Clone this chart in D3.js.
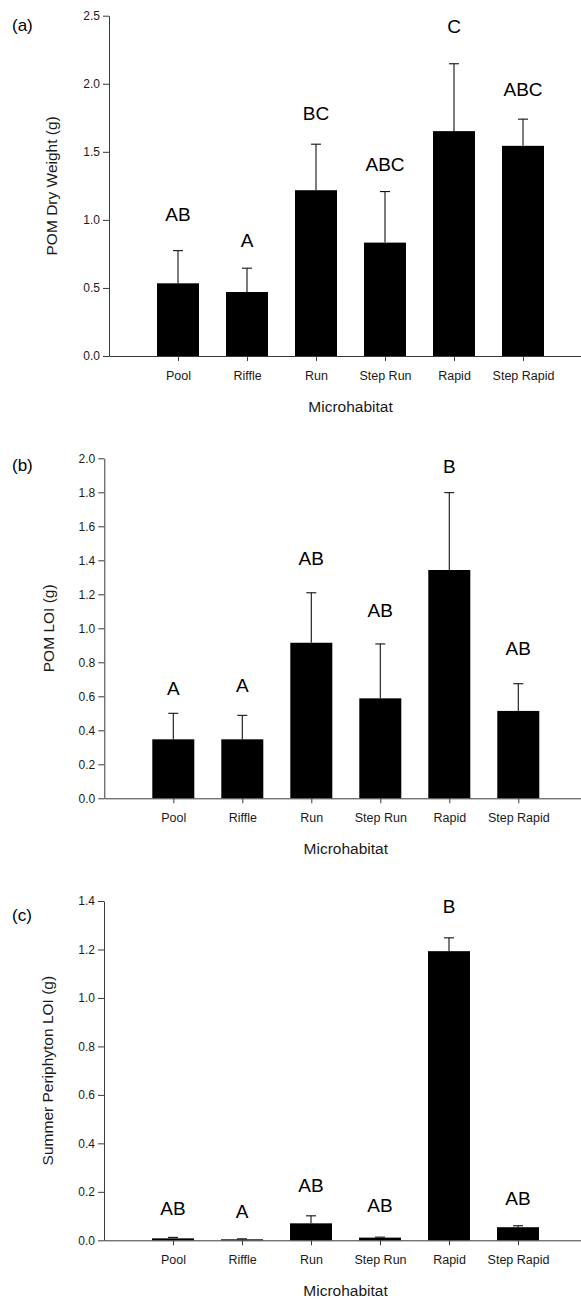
<!DOCTYPE html>
<html>
<head>
<meta charset="utf-8">
<script src="https://cdn.jsdelivr.net/npm/d3@7"></script>
<style>
  html, body { margin: 0; padding: 0; background: #fff; }
  svg { display: block; }
  text { font-family: "Liberation Sans", Arial, sans-serif; }
</style>
</head>
<body>
<svg id="chart" width="581" height="1304"></svg>
<script>
// ---- data ----
const categories = ["Pool", "Riffle", "Run", "Step Run", "Rapid", "Step Rapid"];

const dryMean = [0.534, 0.470, 1.218, 0.833, 1.652, 1.544];
const dryErr = [0.240, 0.175, 0.338, 0.375, 0.495, 0.196];
const dryLetters = ["AB", "A", "BC", "ABC", "C", "ABC"];
const dryLetterAt = [0.995, 0.804, 1.735, 1.362, 2.373, 1.912];
const dryTicks = [0.0, 0.5, 1.0, 1.5, 2.0, 2.5];

const loiMean = [0.347, 0.347, 0.915, 0.588, 1.343, 0.514];
const loiErr = [0.153, 0.141, 0.294, 0.320, 0.455, 0.160];
const loiLetters = ["A", "A", "AB", "AB", "B", "AB"];
const loiLetterAt = [0.608, 0.624, 1.372, 1.068, 1.912, 0.843];
const loiTicks = [0.0, 0.2, 0.4, 0.6, 0.8, 1.0, 1.2, 1.4, 1.6, 1.8, 2.0];

const periMean = [0.008, 0.004, 0.070, 0.011, 1.193, 0.054];
const periErr = [0.004, 0.002, 0.031, 0.002, 0.055, 0.006];
const periLetters = ["AB", "A", "AB", "AB", "B", "AB"];
const periLetterAt = [0.104, 0.091, 0.200, 0.116, 1.349, 0.146];
const periTicks = [0.0, 0.2, 0.4, 0.6, 0.8, 1.0, 1.2, 1.4];

const panelLabels = ["(a)", "(b)", "(c)"];
const yTitles = ["POM Dry Weight (g)", "POM LOI (g)", "Summer Periphyton LOI (g)"];
const xTitle = "Microhabitat";

// ---- layout (not data) ----
const panels = [
  { mean: dryMean, err: dryErr, letters: dryLetters, letterAt: dryLetterAt, ticks: dryTicks,
    yMax: 2.5, x0: 109, top: 15.7, bottom: 356, ylabX: 52, labelY: 31 },
  { mean: loiMean, err: loiErr, letters: loiLetters, letterAt: loiLetterAt, ticks: loiTicks,
    yMax: 2.0, x0: 104.3, top: 458.3, bottom: 798.3, ylabX: 49, labelY: 471 },
  { mean: periMean, err: periErr, letters: periLetters, letterAt: periLetterAt, ticks: periTicks,
    yMax: 1.4, x0: 104, top: 901, bottom: 1240.3, ylabX: 48, labelY: 921 }
];
const step = 69;
const barW = 42;
const capW = 10;
const axisColor = "#3a3a3a";
const textColor = "#1a1a1a";

const svg = d3.select("#chart");

panels.forEach((p, k) => {
  const g = svg.append("g");
  const x = d3.scaleLinear().domain([0, 7]).range([p.x0, p.x0 + 7 * step]);
  const y = d3.scaleLinear().domain([0, p.yMax]).range([p.bottom, p.top]);

  // bars
  g.selectAll("rect.bar").data(p.mean).join("rect")
    .attr("class", "bar")
    .attr("x", (d, i) => x(i + 1) - barW / 2)
    .attr("width", barW)
    .attr("y", d => y(d))
    .attr("height", d => y(0) - y(d))
    .attr("fill", "#000");

  // error bars
  const eb = g.selectAll("g.eb").data(p.mean).join("g").attr("class", "eb");
  eb.append("line")
    .attr("x1", (d, i) => x(i + 1)).attr("x2", (d, i) => x(i + 1))
    .attr("y1", d => y(d)).attr("y2", (d, i) => y(d + p.err[i]))
    .attr("stroke", "#111").attr("stroke-width", 1.1);
  eb.append("line")
    .attr("x1", (d, i) => x(i + 1) - capW / 2).attr("x2", (d, i) => x(i + 1) + capW / 2)
    .attr("y1", (d, i) => y(d + p.err[i])).attr("y2", (d, i) => y(d + p.err[i]))
    .attr("stroke", "#111").attr("stroke-width", 1.1);

  // significance letters
  g.selectAll("text.letter").data(p.letters).join("text")
    .attr("class", "letter")
    .attr("x", (d, i) => x(i + 1))
    .attr("y", (d, i) => y(p.letterAt[i]))
    .attr("text-anchor", "middle")
    .attr("font-size", 19)
    .attr("fill", "#000")
    .text(d => d);

  // y axis
  const yAxis = g.append("g")
    .attr("transform", `translate(${p.x0},0)`)
    .call(d3.axisLeft(y).tickValues(p.ticks).tickFormat(d3.format(".1f"))
      .tickSize(6).tickPadding(3).tickSizeOuter(0));
  yAxis.select(".domain").attr("stroke", axisColor);
  yAxis.selectAll(".tick line").attr("stroke", axisColor);
  yAxis.selectAll(".tick text").attr("font-size", 12).attr("fill", textColor)
    .attr("font-family", '"Liberation Sans", Arial, sans-serif');

  // x axis
  const xAxis = g.append("g")
    .attr("transform", `translate(0,${p.bottom})`)
    .call(d3.axisBottom(x).tickValues(d3.range(1, categories.length + 1))
      .tickFormat(i => categories[i - 1]).tickSize(5).tickPadding(10).tickSizeOuter(0));
  xAxis.select(".domain").attr("stroke", axisColor);
  xAxis.selectAll(".tick line").attr("stroke", axisColor);
  xAxis.selectAll(".tick text").attr("font-size", 12.5).attr("fill", textColor)
    .attr("font-family", '"Liberation Sans", Arial, sans-serif');

  // x title
  g.append("text")
    .attr("x", x(3.5)).attr("y", p.bottom + 56)
    .attr("text-anchor", "middle").attr("font-size", 15.5).attr("fill", textColor)
    .text(xTitle);

  // y title
  g.append("text")
    .attr("transform", `translate(${p.ylabX},${(p.top + p.bottom) / 2}) rotate(-90)`)
    .attr("text-anchor", "middle").attr("dy", "0.35em")
    .attr("font-size", 15.5).attr("fill", textColor)
    .text(yTitles[k]);

  // panel label
  g.append("text")
    .attr("x", 12).attr("y", p.labelY)
    .attr("font-size", 17).attr("fill", "#000")
    .text(panelLabels[k]);
});
</script>
</body>
</html>
